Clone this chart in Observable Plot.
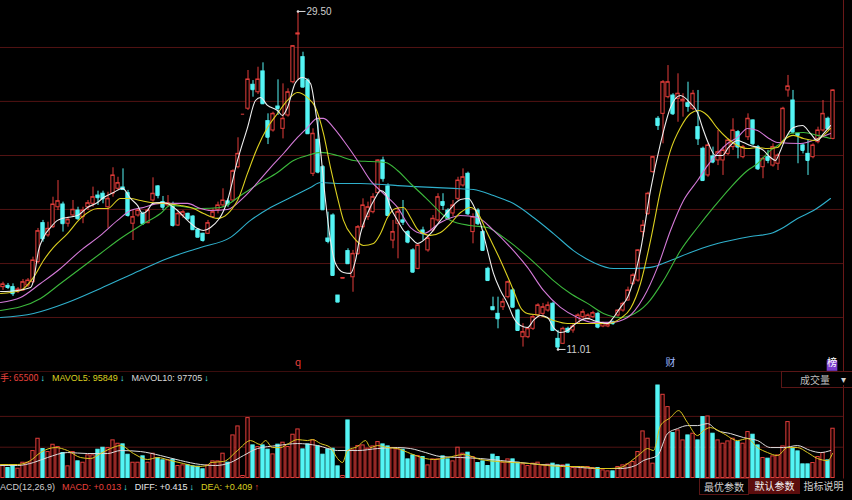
<!DOCTYPE html>
<html><head><meta charset="utf-8">
<script src="https://cdn.jsdelivr.net/npm/d3@7"></script>
<script src="https://cdn.jsdelivr.net/npm/@observablehq/plot@0.6"></script>
<style>
html,body{margin:0;padding:0;background:#000;overflow:hidden;}
#root{position:relative;width:852px;height:500px;overflow:hidden;background:#000;font-family:"Liberation Sans","Noto Sans CJK SC",sans-serif;}
#price{position:absolute;left:0;top:0;}
#vol{position:absolute;left:0;top:372px;}
.row{position:absolute;left:0;font-size:9px;line-height:12px;white-space:nowrap;display:flex;}
.row span{display:inline-block;}
.cn{font-family:"Noto Sans CJK SC",sans-serif;}
.box{position:absolute;font-family:"Noto Sans CJK SC",sans-serif;font-size:10px;line-height:15px;text-align:center;white-space:nowrap;}
</style></head>
<body><div id="root">
<div id="price"></div>
<div id="vol"></div>
<div id="texts"></div>
</div>
<script>
// ---- candle data (price, one entry per trading day) ----
const opens=[14.42,14.49,14.42,14.18,14.24,14.51,14.69,15.79,17.92,17.25,17.70,18.79,18.94,17.89,18.34,18.61,18.25,18.79,18.98,19.43,19.53,18.79,19.53,19.80,19.87,19.56,17.89,18.34,18.43,17.92,19.16,19.93,19.07,18.89,18.94,17.79,18.34,18.43,18.28,17.56,17.34,17.34,18.25,18.65,18.89,19.11,19.16,20.98,23.88,24.18,25.49,25.08,26.22,23.50,22.99,24.30,23.08,23.81,25.63,28.24,27.00,25.72,20.62,22.48,20.98,17.08,18.34,13.96,14.89,16.39,14.96,16.24,17.70,18.25,18.52,19.56,21.35,19.93,16.97,17.89,18.07,17.43,16.43,15.42,17.52,16.43,17.52,18.07,19.07,18.61,18.45,19.25,19.98,20.62,17.43,18.61,17.43,15.42,13.32,12.96,13.32,13.87,14.24,13.14,11.68,11.68,12.14,12.87,12.96,13.14,13.51,11.59,11.32,12.14,12.05,12.42,12.78,12.69,12.78,12.96,12.27,12.27,12.50,12.87,13.14,13.69,14.60,14.78,17.43,18.43,20.71,23.63,23.90,24.81,24.90,24.72,24.59,24.48,24.18,23.17,21.99,20.53,21.57,21.35,21.35,21.71,22.08,22.90,21.53,22.62,23.54,22.08,20.98,21.53,21.07,21.17,22.35,25.18,24.63,22.81,22.17,21.71,21.53,22.35,22.99,23.63,22.53];
const highs=[14.69,14.62,14.60,14.40,14.84,14.89,16.06,17.63,18.07,17.97,19.34,20.25,19.07,18.25,19.16,18.79,18.79,19.16,19.89,19.67,19.67,19.61,20.95,20.43,20.89,19.71,18.61,18.71,18.52,18.71,20.40,19.98,19.38,19.43,19.07,18.52,18.61,18.47,18.34,17.61,17.37,18.07,18.71,19.07,19.80,19.25,20.84,22.59,23.88,26.27,25.72,26.45,26.69,23.90,23.99,25.76,25.54,25.27,27.64,29.50,27.27,25.82,23.08,23.63,21.07,18.52,18.43,13.96,14.92,16.52,16.43,17.79,19.25,19.07,19.53,21.39,21.53,20.07,18.07,18.79,19.16,17.52,16.52,16.79,17.70,17.25,18.34,19.53,19.53,18.71,19.16,20.43,20.89,20.71,18.43,18.71,17.52,15.51,13.87,13.87,13.78,14.75,14.33,13.21,12.42,12.23,12.87,13.51,13.53,13.60,13.60,12.05,12.23,12.23,12.42,12.96,13.18,12.96,13.10,13.05,12.50,12.45,12.56,13.18,13.60,14.42,15.15,16.46,18.07,19.61,21.57,23.75,25.72,26.54,25.00,26.09,25.00,25.63,25.18,25.18,22.08,22.26,22.08,22.99,22.08,22.53,23.63,22.99,22.17,23.90,23.57,22.17,21.53,21.90,22.26,21.71,24.26,26.00,25.18,22.81,22.26,22.44,22.26,23.17,24.63,23.72,25.22];
const lows=[14.24,14.29,13.91,14.07,14.18,14.40,14.62,15.71,16.88,17.15,17.63,18.61,17.43,17.70,18.25,18.07,17.89,18.61,18.79,18.89,18.98,17.63,19.34,19.71,19.73,18.25,16.97,18.25,17.79,17.89,19.07,19.25,18.61,18.79,17.70,17.74,18.18,18.07,17.52,17.12,16.88,17.30,18.16,18.43,18.79,18.79,19.07,20.89,23.88,24.08,24.81,24.96,24.41,22.22,22.90,23.81,22.53,23.72,25.54,25.72,25.32,22.77,20.47,20.62,18.61,16.79,15.04,13.60,14.89,15.66,14.14,16.15,17.61,18.07,18.43,19.53,20.16,18.28,16.52,15.97,17.79,16.79,15.18,15.37,16.97,16.33,17.43,17.97,18.61,18.07,18.28,19.16,19.89,18.34,16.79,17.79,16.39,14.75,13.14,12.14,13.14,13.78,13.29,12.01,11.14,11.60,12.05,12.78,12.81,13.05,12.01,11.01,11.28,11.90,11.90,12.38,12.60,12.60,12.69,12.14,12.20,12.20,12.34,12.78,13.05,13.65,14.51,14.69,17.15,18.34,20.65,22.99,22.26,24.72,23.81,23.44,23.72,23.99,24.08,22.17,20.22,20.43,21.17,21.07,20.53,21.62,21.90,21.44,21.44,22.44,22.17,20.80,20.35,21.17,20.98,20.80,22.26,24.81,22.81,21.17,21.71,20.53,21.44,22.26,22.90,22.99,22.48];
const closes=[14.57,14.40,14.06,14.29,14.69,14.78,15.88,17.48,17.06,17.61,18.94,19.12,17.89,18.10,18.65,18.16,18.61,19.01,19.34,19.31,19.25,19.25,20.53,20.11,19.76,18.34,18.25,18.61,17.89,18.61,19.53,19.43,18.79,19.01,17.79,18.43,18.52,18.16,17.56,17.15,16.97,17.92,18.52,18.89,19.16,18.94,20.76,21.71,23.88,25.78,25.22,25.78,24.45,22.62,23.90,24.19,23.63,25.08,27.60,28.30,25.36,22.81,22.81,20.71,18.65,16.92,15.06,13.60,14.92,15.70,16.24,17.70,18.89,18.79,19.34,21.35,20.35,18.34,17.43,18.52,17.97,16.88,15.24,16.70,17.34,17.08,18.16,19.34,18.89,18.16,18.89,20.25,20.43,18.43,18.25,17.89,16.43,14.78,13.18,12.69,13.60,14.69,13.32,12.05,11.96,12.14,12.78,13.42,13.32,13.42,12.05,11.14,12.14,11.96,12.27,12.87,13.05,12.87,13.00,12.23,12.42,12.38,12.42,13.14,13.51,14.24,15.06,16.43,17.79,19.53,21.53,23.26,25.63,25.63,23.90,25.00,24.67,24.30,25.00,22.53,20.25,22.17,21.26,21.80,21.90,22.44,22.99,22.08,22.08,23.63,22.26,20.89,21.44,21.35,22.08,21.62,24.18,25.40,22.90,22.72,21.90,21.35,22.17,22.99,23.90,23.08,25.18];
// volume (手)
const volumes=[25400,20000,25400,18600,30600,30600,54000,78600,58000,52000,66600,62000,50000,23400,52000,33400,30600,45400,45400,56600,60600,60000,75400,68600,67400,46600,30600,30600,43400,30600,48600,39400,35400,35400,36600,24000,25400,25400,23400,22600,17400,25400,33400,33300,48700,30700,85300,103300,4000,120000,65300,62000,65300,56700,47300,66700,70700,62000,86700,97300,57300,67300,75300,63300,46700,57300,58700,23300,4000,115300,55300,64000,65300,58700,63300,72000,67300,63300,60000,57300,56700,37300,45300,44000,42000,25300,37300,37300,43300,37300,33300,60700,48700,50700,42000,30000,33300,24000,46700,42000,30700,37300,37300,30700,27300,24000,28700,30700,25300,26700,28700,25300,25300,26700,20000,22000,22000,22000,20000,20000,15300,13300,13300,22000,25300,27300,32000,52000,93300,78700,28700,185300,166700,142000,90000,95300,75300,85300,88700,75300,122000,123300,88700,75300,68700,73300,78700,72000,68700,92000,86700,65300,40000,38700,43300,45300,63300,112000,58700,53300,27300,27300,30000,42000,50000,35300,98700];
// moving averages: [day, value]
const ma5=[[-0.5,14.18],[2.9,14.24],[5.5,14.40],[6.1,14.78],[7.1,16.42],[8.1,17.14],[9.5,17.68],[10.9,18.07],[11.9,18.18],[12.9,18.23],[14.9,18.34],[16.9,18.78],[18.9,19.05],[20.1,19.32],[22.1,19.60],[23.9,19.82],[25.5,19.27],[26.9,18.89],[27.9,18.45],[28.9,18.61],[29.9,18.99],[31.5,19.05],[32.9,18.99],[33.9,18.83],[34.9,18.61],[36.9,18.07],[38.9,17.63],[40.1,17.52],[41.5,17.68],[44.9,19.16],[46.9,21.35],[48.9,23.15],[50.5,24.63],[51.5,24.79],[52.9,24.36],[54.9,24.08],[55.9,23.81],[56.9,24.25],[58.5,25.61],[59.9,25.89],[61.5,25.56],[62.5,24.08],[63.5,21.90],[64.5,19.16],[65.5,16.97],[66.5,15.71],[68.1,15.22],[69.5,15.17],[70.5,15.88],[71.5,17.35],[72.9,18.45],[74.5,19.32],[75.5,19.71],[76.5,19.54],[77.5,18.78],[78.9,18.07],[80.1,17.52],[81.5,17.14],[82.9,16.81],[85.5,17.35],[87.5,18.07],[89.5,18.72],[91.5,19.21],[93.1,19.27],[94.1,18.89],[95.5,17.90],[96.9,16.43],[98.1,15.17],[99.5,14.24],[100.9,13.53],[102.1,12.76],[103.5,12.32],[104.9,12.21],[106.1,12.60],[107.5,12.87],[108.9,12.76],[110.1,12.21],[111.5,11.94],[112.9,12.05],[114.1,12.32],[115.5,12.60],[116.9,12.71],[118.1,12.60],[119.5,12.49],[120.9,12.43],[122.1,12.76],[123.5,13.31],[124.9,13.85],[127.5,16.42],[129.5,19.71],[131.5,22.28],[133.5,24.25],[135.5,24.90],[137.5,24.47],[138.9,23.97],[139.9,23.15],[141.1,22.28],[142.5,21.62],[143.9,21.62],[145.1,22.06],[146.9,22.44],[148.1,22.33],[149.5,22.17],[150.9,22.06],[152.1,21.90],[153.5,21.51],[154.5,21.35],[155.5,21.90],[156.5,22.55],[158.1,23.15],[159.9,23.26],[161.5,22.82],[162.9,22.44],[164.1,22.82],[165.5,23.26]];
const ma10=[[-0.5,14.07],[3.5,14.24],[6.1,14.95],[8.1,15.88],[10.1,16.59],[12.9,17.35],[15.5,18.18],[18.9,18.72],[20.9,18.72],[23.5,19.27],[25.5,19.27],[27.5,19.16],[29.5,19.05],[32.9,18.99],[35.5,18.89],[38.1,18.72],[40.1,18.45],[42.9,18.18],[46.9,19.16],[48.9,20.64],[50.9,22.06],[52.9,23.15],[54.9,23.92],[56.9,24.63],[58.9,25.07],[60.9,24.79],[62.5,24.25],[64.1,22.82],[65.5,20.96],[66.9,19.32],[68.1,18.07],[70.1,17.14],[72.1,16.70],[74.1,16.81],[75.5,17.35],[76.9,18.23],[78.5,18.72],[80.1,18.78],[81.5,18.23],[83.1,17.52],[85.5,17.25],[87.5,17.41],[89.5,17.90],[91.5,18.50],[93.5,18.78],[94.9,18.50],[96.9,17.35],[99.5,15.88],[102.1,14.24],[103.5,13.31],[104.9,12.98],[107.5,12.87],[110.1,12.60],[112.9,12.43],[115.5,12.43],[118.1,12.43],[120.9,12.43],[123.5,12.71],[125.5,13.25],[127.5,14.62],[129.5,16.97],[131.5,19.71],[133.5,21.90],[135.5,23.15],[137.5,23.92],[139.1,24.08],[140.9,23.81],[142.9,23.10],[144.9,22.55],[146.9,22.17],[148.9,22.00],[150.9,22.06],[152.9,22.00],[154.9,22.06],[156.1,22.44],[158.1,22.72],[160.1,22.55],[162.1,22.44],[164.1,22.72],[165.5,23.10]];
const ma20=[[-0.5,13.58],[3.5,13.85],[7.5,14.62],[11.5,15.44],[15.5,16.42],[19.5,17.25],[22.9,18.07],[25.5,18.61],[28.1,18.78],[31.5,19.00],[36.9,19.00],[39.5,18.72],[41.5,18.61],[44.9,18.67],[48.1,19.32],[50.9,20.14],[53.5,20.96],[56.1,21.73],[58.9,22.61],[60.9,23.15],[62.9,23.65],[64.1,23.65],[66.1,23.15],[68.1,22.44],[70.9,21.35],[73.5,20.25],[76.1,19.54],[78.9,18.78],[81.5,17.68],[84.1,17.35],[87.5,17.96],[91.5,18.34],[94.9,18.23],[98.1,17.52],[101.5,16.59],[104.9,15.50],[108.1,14.24],[111.5,13.31],[114.9,12.76],[118.1,12.49],[121.5,12.49],[124.9,12.76],[128.1,13.85],[130.9,15.50],[133.5,17.52],[136.1,19.16],[138.9,20.25],[140.9,21.07],[142.9,21.73],[144.9,22.28],[146.9,22.61],[148.9,23.10],[150.9,22.99],[152.9,22.61],[154.9,22.33],[159.5,22.28],[163.5,22.61],[165.5,22.82]];
const ma30=[[-0.5,13.14],[7.5,13.80],[11.5,14.62],[15.5,15.44],[19.5,16.26],[23.5,17.08],[27.5,17.79],[31.5,18.45],[33.5,18.89],[39.5,18.72],[43.5,18.78],[48.1,19.54],[51.5,20.14],[54.9,20.69],[58.1,21.35],[60.9,21.62],[63.5,21.79],[66.9,21.62],[70.1,21.35],[73.5,21.29],[76.5,21.24],[78.9,20.80],[81.5,20.09],[84.5,19.32],[89.5,18.07],[93.5,17.79],[96.9,17.68],[100.1,17.14],[103.5,16.42],[106.9,15.60],[110.1,14.78],[113.5,14.07],[116.9,13.53],[120.1,12.98],[123.5,12.76],[125.5,12.87],[128.9,13.53],[132.1,14.78],[135.5,16.42],[138.9,17.68],[142.1,18.78],[145.5,19.87],[148.9,20.80],[150.9,21.18],[153.5,21.90],[155.5,22.28],[157.5,22.82],[160.1,22.88],[162.9,22.72],[165.5,22.55]];
const ma60=[[-0.5,12.76],[6.1,12.98],[12.9,13.58],[19.5,14.35],[26.1,15.17],[32.9,15.99],[39.5,16.59],[45.5,17.14],[49.5,18.07],[53.5,18.78],[57.5,19.32],[61.5,19.87],[63.5,20.14],[66.9,20.09],[71.5,20.09],[81.5,19.93],[90.1,19.82],[94.1,19.76],[98.1,19.43],[102.1,18.99],[106.1,18.23],[110.1,17.35],[114.1,16.42],[118.1,15.77],[122.1,15.44],[126.1,15.44],[129.5,15.50],[133.5,15.88],[137.5,16.32],[141.5,16.70],[145.5,16.97],[149.5,17.19],[153.5,17.35],[156.1,17.68],[158.9,18.18],[162.1,18.61],[165.5,19.27]];
const mavol5=[[-0.5,27000],[2.9,27000],[5.5,35000],[7.5,51000],[10.5,61000],[12.9,55000],[15.5,41000],[17.5,39000],[19.5,49000],[21.5,59000],[23.5,65000],[26.1,49000],[28.9,37000],[30.9,41000],[33.5,35000],[36.1,29000],[38.9,23000],[40.9,25000],[41.5,31000],[44.1,33000],[46.9,55000],[49.5,75000],[51.5,67000],[52.5,75000],[53.9,61000],[55.5,61000],[57.1,69000],[58.9,77000],[60.9,75000],[61.9,77000],[63.5,69000],[65.5,61000],[66.9,39000],[67.9,31000],[68.9,55000],[70.9,63000],[72.5,75000],[73.5,61000],[74.9,65000],[76.9,61000],[78.9,59000],[81.5,49000],[84.5,39000],[86.1,37000],[88.9,41000],[92.1,47000],[95.5,37000],[98.9,33000],[102.1,31000],[105.5,29000],[108.9,25000],[112.1,23000],[115.5,23000],[118.9,19000],[121.5,19000],[123.5,21000],[125.5,33000],[127.5,49000],[128.9,59000],[130.1,55000],[131.5,105000],[133.5,121000],[135.1,135000],[136.9,111000],[138.9,85000],[140.1,95000],[141.5,101000],[144.1,89000],[146.9,75000],[148.9,79000],[150.9,61000],[152.9,51000],[154.9,45000],[156.9,61000],[158.9,61000],[160.9,51000],[162.9,39000],[164.9,35000],[165.9,49000]];
const mavol10=[[-0.5,25000],[2.9,25000],[6.1,31000],[8.9,41000],[12.9,51000],[16.9,49000],[20.9,49000],[23.5,55000],[27.5,53000],[31.5,45000],[35.5,35000],[39.5,27000],[42.5,25000],[45.5,31000],[48.1,45000],[50.9,59000],[54.9,65000],[58.9,69000],[62.9,65000],[66.9,55000],[70.9,55000],[74.9,59000],[78.9,61000],[81.5,59000],[84.5,51000],[87.5,43000],[91.5,41000],[95.5,39000],[99.5,35000],[103.5,31000],[107.5,27000],[111.5,25000],[115.5,21000],[119.5,19000],[123.5,19000],[126.5,25000],[128.1,35000],[130.9,45000],[132.9,89000],[134.9,99000],[136.9,105000],[138.9,105000],[140.9,109000],[142.9,95000],[145.5,89000],[148.1,81000],[150.9,75000],[153.5,61000],[156.1,61000],[158.9,65000],[161.5,55000],[163.5,51000],[165.5,55000]];
// grid levels, extremes, event markers
const priceGrid=[12.76,15.71,18.67,21.62,24.58,27.53];
const panelFloor=[9.78];
const volGrid=[61700,123400];
const extremes=[{day:59,value:29.50},{day:111,value:11.01}];
const markers=[{day:59,label:"q",color:"#e8403c"},{day:133.5,label:"财",color:"#9db8ff"},{day:165.8,label:"榜",color:"#ffffff"}];
// header / footer labels
const headerItems=[["手: 65500","#e8403c"],["↓","#54f4f4"],["MAVOL5: 95849","#dcd020"],["↓","#54f4f4"],["MAVOL10: 97705","#d8d8d8"],["↓","#54f4f4"]];
const footerItems=[["ACD(12,26,9)","#cfcfcf"],["MACD: +0.013","#e8403c"],["↓","#54f4f4"],["DIFF: +0.415","#e8e8e8"],["↓","#54f4f4"],["DEA: +0.409","#dcd020"],["↑","#e8403c"]];

const RED="#e23d3a", CYAN="#54f4f4", GRID="#521313";
const candles=opens.map((o,i)=>({i,open:o,high:highs[i],low:lows[i],close:closes[i],vol:volumes[i],up:closes[i]>=o}));
const xDomain=[-0.5,168.1];
const hw=0.33;

const price=Plot.plot({
  width:852,height:372,marginLeft:0,marginRight:9,marginTop:0,marginBottom:0,
  style:{background:"#000"},
  x:{domain:xDomain,axis:null},
  y:{domain:[9.75,30.10],axis:null},
  color:{type:"identity"},
  marks:[
    Plot.ruleY(priceGrid,{stroke:GRID,strokeWidth:1}),
    Plot.ruleY(panelFloor,{stroke:"#6a1818",strokeWidth:1}),
    Plot.frame({anchor:"right",stroke:"#6a1818"}),
    Plot.ruleX(candles,{x:"i",y1:"low",y2:"high",stroke:d=>d.up?RED:CYAN,strokeWidth:1}),
    Plot.rect(candles,{x1:d=>d.i-hw,x2:d=>d.i+hw,y1:"open",y2:"close",fill:d=>d.up?"#000":CYAN,stroke:d=>d.up?RED:CYAN,strokeWidth:1}),
    Plot.ruleY(candles,{y:"close",x1:d=>d.i-hw,x2:d=>d.i+hw,stroke:d=>d.up?RED:CYAN}),
    Plot.line(ma60,{x:d=>d[0],y:d=>d[1],stroke:"#2fb0cc",strokeWidth:1.1,curve:"monotone-x"}),
    Plot.line(ma30,{x:d=>d[0],y:d=>d[1],stroke:"#3cb83c",strokeWidth:1.1,curve:"monotone-x"}),
    Plot.line(ma20,{x:d=>d[0],y:d=>d[1],stroke:"#d47ad8",strokeWidth:1.1,curve:"monotone-x"}),
    Plot.line(ma10,{x:d=>d[0],y:d=>d[1],stroke:"#dcd020",strokeWidth:1.1,curve:"monotone-x"}),
    Plot.line(ma5,{x:d=>d[0],y:d=>d[1],stroke:"#eeeeee",strokeWidth:1.1,curve:"monotone-x"}),
    Plot.link(extremes,{x1:"day",x2:d=>d.day+1.5,y1:"value",y2:"value",stroke:"#dddddd",strokeWidth:1}),
    Plot.dot(extremes,{x:"day",y:"value",r:1.3,fill:"#dddddd"}),
    Plot.text(extremes,{x:d=>d.day+1.7,y:"value",text:d=>d.value.toFixed(2),textAnchor:"start",fill:"#cfcfcf",fontSize:10,fontFamily:"Liberation Sans"}),
    Plot.dot(markers.filter(d=>d.label==="榜"),{x:"day",frameAnchor:"bottom",dy:-7,symbol:"square",r:6,fill:"#7a3ccc"}),
    Plot.text(markers,{x:"day",frameAnchor:"bottom",dy:-7,text:"label",fill:"color",fontSize:10,fontFamily:"Noto Sans CJK SC"})
  ]
});
document.getElementById("price").appendChild(price);

const vol=Plot.plot({
  width:852,height:108,marginLeft:0,marginRight:9,marginTop:13,marginBottom:2.5,
  style:{background:"transparent"},
  x:{domain:xDomain,axis:null},
  y:{domain:[0,185300],axis:null},
  color:{type:"identity"},
  marks:[
    Plot.ruleY(volGrid,{stroke:GRID,strokeWidth:1}),
    Plot.frame({anchor:"right",stroke:"#6a1818"}),
    Plot.rect(candles,{x1:d=>d.i-hw,x2:d=>d.i+hw,y1:0,y2:"vol",fill:d=>d.up?"#140000":CYAN,stroke:d=>d.up?RED:CYAN,strokeWidth:1}),
    Plot.line(mavol10,{x:d=>d[0],y:d=>d[1],stroke:"#dddddd",strokeWidth:1,curve:"monotone-x"}),
    Plot.line(mavol5,{x:d=>d[0],y:d=>d[1],stroke:"#dcc820",strokeWidth:1,curve:"monotone-x"})
  ]
});
document.getElementById("vol").appendChild(vol);

const T=document.getElementById("texts");
function row(items,top){
  const r=document.createElement("div");r.className="row";r.style.top=top+"px";
  items.forEach(([txt,color],k)=>{
    const s=document.createElement("span");s.textContent=txt;s.style.color=color;
    if(/[\u4e00-\u9fff]/.test(txt)) s.className="cn";
    s.style.marginLeft = k===0 ? "0px" : (txt.length===1 ? "2px" : "7px");
    r.appendChild(s);
  });
  T.appendChild(r);
}
row(headerItems,372);
row(footerItems,481);
function box(txt,left,top,w,h,style){const s=document.createElement("div");s.className="box";s.textContent=txt;Object.assign(s.style,{left:left+"px",top:top+"px",width:w+"px",height:h+"px"},style);T.appendChild(s);}
box("成交量",781,371,72,15,{border:"1px solid #5a1616",color:"#bdbdbd",textAlign:"left",textIndent:"18px"});
box("▾",836,371,14,15,{color:"#cfcfcf"});
box("最优参数",699,478,48,15,{border:"1px solid #5a1616",color:"#d0d0d0"});
box("默认参数",749,478,51,16,{background:"#5c0d0d",color:"#f2f2f2"});
box("指标说明",801,478,45,15,{color:"#d0d0d0"});
</script>
</body></html>
